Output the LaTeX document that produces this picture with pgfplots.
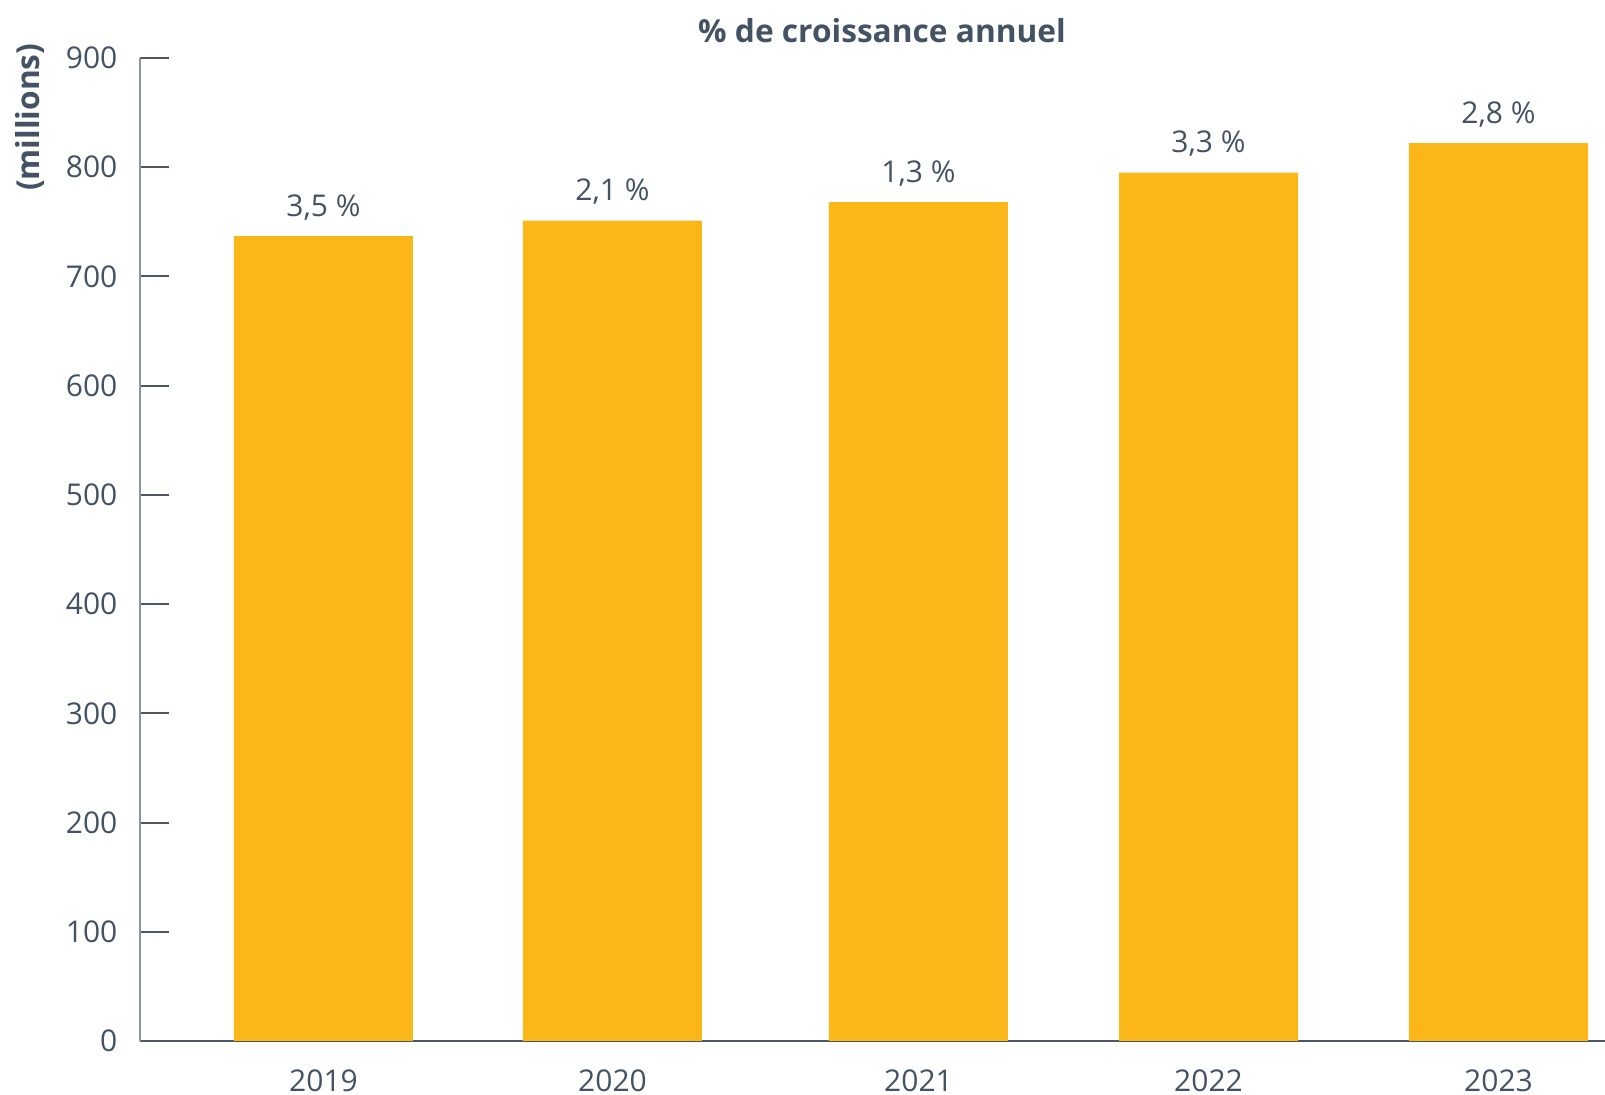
\documentclass[border=0pt]{standalone}
\usepackage{pgfplots}
\usepackage{pgfplotstable}
\pgfplotsset{compat=1.18}
\usepackage{fontspec}
\setmainfont{Open Sans}

\definecolor{bartxt}{HTML}{435364}
\definecolor{baryel}{HTML}{FBB617}
\definecolor{yaxis}{HTML}{8A96A3}
\definecolor{xaxis}{HTML}{4D5766}

% x: bar centres (2019 = 0, one unit = 289 px of the reference)
\pgfplotstableread{
x      y    lab
0      737  3,5
1      751  2,1
2.0588 768  1,3
3.0623 795  3,3
4.0657 822  2,8
}\croissance

\begin{document}
\begin{tikzpicture}
\begin{axis}[
    name=ax,
    scale only axis,
    width=439.5pt,
    height=294.9pt,
    xmin=-0.6349, xmax=4.4343,
    ymin=0, ymax=900,
    axis lines*=left,
    x axis line style={xaxis, line width=0.6pt},
    y axis line style={yaxis, line width=0.6pt},
    xtick={0,1,2.0588,3.0623,4.0657},
    xticklabels={2019,2020,2021,2022,2023},
    ytick={0,100,...,900},
    xtick style={draw=none},
    ytick style={xaxis, line width=0.6pt},
    tick align=inside,
    major tick length=8.7pt,
    /pgf/number format/assume math mode=true,
    ticklabel style={font=\fontsize{9pt}{11pt}\selectfont, text=bartxt},
    yticklabel style={anchor=east, inner sep=0pt, xshift=-6.6pt},
    xticklabel style={anchor=base, inner sep=0pt, yshift=-15.3pt},
    every axis title shift=0pt,
    title={\% de croissance annuel},
    title style={at={(rel axis cs:0.5065,1.0153)}, anchor=base, inner sep=0pt,
        font=\fontsize{9.5pt}{11pt}\selectfont\bfseries, text=bartxt},
    ylabel={(millions)},
    ylabel style={at={(rel axis cs:-0.0853,1.0153)}, anchor=north east, inner sep=0pt,
        font=\fontsize{9.5pt}{11pt}\selectfont\bfseries, text=bartxt},
    point meta=explicit symbolic,
    nodes near coords={\pgfplotspointmeta\ \%},
    nodes near coords style={anchor=base, inner sep=0pt, yshift=6pt,
        font=\fontsize{9pt}{11pt}\selectfont, text=bartxt},
    clip=false,
]
\addplot[ybar, bar width=53.7pt, fill=baryel, draw=none]
    table[x=x, y=y, meta=lab] {\croissance};
\end{axis}
\pgfresetboundingbox
\path (ax.south west) ++(-42pt,-16.2pt) rectangle ([yshift=17.4pt]ax.north east);
\end{tikzpicture}
\end{document}
